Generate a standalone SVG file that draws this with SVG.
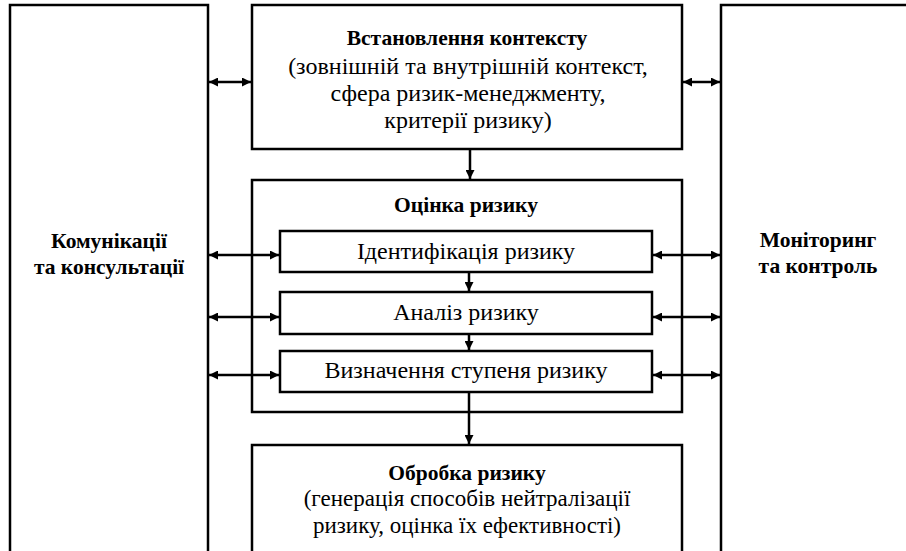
<svg xmlns="http://www.w3.org/2000/svg" width="906" height="551" viewBox="0 0 906 551">
<defs>
<marker id="ah" viewBox="0 0 10 10" refX="10" refY="5" markerWidth="11" markerHeight="9" markerUnits="userSpaceOnUse" orient="auto-start-reverse">
<path d="M0,0 L10,5 L0,10 Z" fill="#000"/>
</marker>
</defs>
<style>
.box{fill:#fff;stroke:#000;stroke-width:2.5}
.t{font-family:"Liberation Serif","Times New Roman",serif;font-size:24px;fill:#000;text-anchor:middle}
.b{font-weight:bold;font-size:21.5px}
.m{font-size:23px}
.c{fill:none;stroke:#000;stroke-width:2.5}
</style>
<rect width="906" height="551" fill="#fff"/>
<g id="comm">
<rect class="box" x="10" y="5" width="198" height="560"/>
<text class="t b" x="109" y="248">Комунікації</text>
<text class="t b" x="109" y="274">та консультації</text>
</g>
<g id="monitor">
<rect class="box" x="721" y="5" width="200" height="560"/>
<text class="t b" x="818" y="247">Моніторинг</text>
<text class="t b" x="818" y="273">та контроль</text>
</g>
<g id="context">
<rect class="box" x="252" y="5" width="430" height="144"/>
<text class="t b" x="467" y="45">Встановлення контексту</text>
<text class="t" x="468" y="74">(зовнішній та внутрішній контекст,</text>
<text class="t" x="468" y="101">сфера ризик-менеджменту,</text>
<text class="t" x="468" y="128">критерії ризику)</text>
</g>
<g id="assessment">
<rect class="box" x="252" y="180" width="430" height="232"/>
<text class="t b" x="466" y="212">Оцінка ризику</text>
</g>
<g id="ident">
<rect class="box" x="280" y="231" width="372" height="41"/>
<text class="t" x="466" y="259">Ідентифікація ризику</text>
</g>
<g id="analysis">
<rect class="box" x="280" y="292" width="372" height="42"/>
<text class="t" x="466" y="320">Аналіз ризику</text>
</g>
<g id="evaluation">
<rect class="box" x="280" y="351" width="372" height="41"/>
<text class="t" x="466" y="378">Визначення ступеня ризику</text>
</g>
<g id="treatment">
<rect class="box" x="252" y="445" width="430" height="120"/>
<text class="t b" x="467" y="480">Обробка ризику</text>
<text class="t m" x="467" y="506">(генерація способів нейтралізації</text>
<text class="t m" x="467" y="533">ризику, оцінка їх ефективності)</text>
</g>
<g id="connectors">
<line class="c" x1="209" y1="82" x2="251" y2="82" marker-start="url(#ah)" marker-end="url(#ah)"/>
<line class="c" x1="683" y1="82" x2="720" y2="82" marker-start="url(#ah)" marker-end="url(#ah)"/>
<line class="c" x1="470" y1="149" x2="470" y2="179" marker-end="url(#ah)"/>
<line class="c" x1="209" y1="255" x2="279" y2="255" marker-start="url(#ah)" marker-end="url(#ah)"/>
<line class="c" x1="209" y1="317" x2="279" y2="317" marker-start="url(#ah)" marker-end="url(#ah)"/>
<line class="c" x1="209" y1="375" x2="279" y2="375" marker-start="url(#ah)" marker-end="url(#ah)"/>
<line class="c" x1="653" y1="255" x2="720" y2="255" marker-start="url(#ah)" marker-end="url(#ah)"/>
<line class="c" x1="653" y1="317" x2="720" y2="317" marker-start="url(#ah)" marker-end="url(#ah)"/>
<line class="c" x1="653" y1="375" x2="720" y2="375" marker-start="url(#ah)" marker-end="url(#ah)"/>
<line class="c" x1="469" y1="272" x2="469" y2="291" marker-end="url(#ah)"/>
<line class="c" x1="469" y1="334" x2="469" y2="350" marker-end="url(#ah)"/>
<line class="c" x1="469" y1="392" x2="469" y2="444" marker-end="url(#ah)"/>
</g>
</svg>
